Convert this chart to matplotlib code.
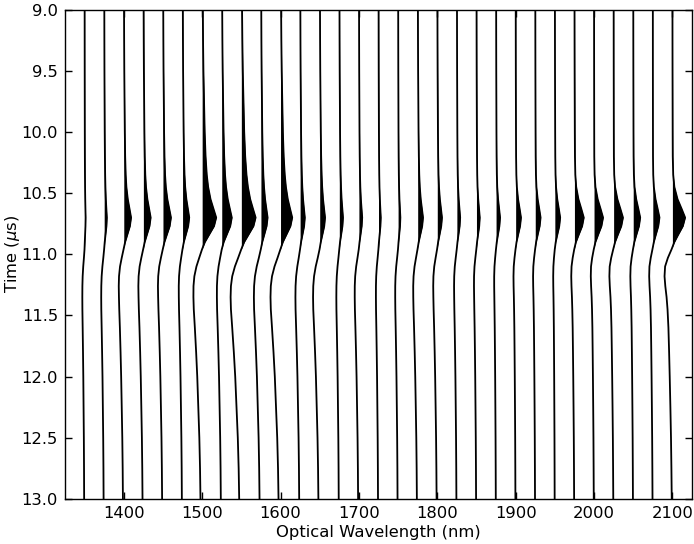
import numpy as np
import matplotlib
matplotlib.use("Agg")
import matplotlib.pyplot as plt

# trace positions (nm)
wavelengths = [1350, 1375, 1400, 1425, 1450, 1475, 1500, 1525, 1550, 1575,
               1600, 1625, 1650, 1675, 1700, 1725, 1750, 1775, 1800, 1825,
               1850, 1875, 1900, 1925, 1950, 1975, 2000, 2025, 2050, 2075, 2100]

# peak deflection of the positive and negative lobes per trace (nm)
pos_amp = [1.3, 3.4, 9.3, 9.3, 10.2, 8.5, 17.9, 12.8, 18.2, 8.5,
           14.9, 6.0, 6.8, 4.7, 4.2, 2.9, 2.9, 6.8, 6.0, 4.2,
           4.2, 5.1, 6.8, 6.8, 6.8, 11.9, 11.5, 11.9, 8.9, 8.5, 16.2]
neg_amp = [2.9, 3.8, 6.8, 6.8, 6.8, 5.1, 11.5, 6.4, 13.7, 9.0,
           12.8, 6.0, 8.5, 3.8, 5.5, 3.4, 3.8, 6.0, 5.5, 3.8,
           3.4, 2.6, 2.9, 2.9, 2.2, 4.2, 4.2, 5.5, 3.8, 4.7, 10.2]
# how much of the slow (broad) pulse shape each trace has
broad_frac = [1.0, 1.0, 0.7, 0.7, 0.7, 0.8, 0.9, 0.9, 1.0, 1.0,
              1.0, 1.0, 1.0, 1.0, 0.9, 0.9, 0.9, 0.8, 0.7, 0.7,
              0.6, 0.5, 0.3, 0.3, 0.3, 0.2, 0.1, 0.1, 0.2, 0.1, 0.1]

# pulse shapes (normalised)
time_us = [9.0, 9.25, 9.5, 9.75, 10.0, 10.2, 10.35, 10.45, 10.55, 10.63,
           10.7, 10.77, 10.84, 10.9, 10.96, 11.03, 11.1, 11.18, 11.26, 11.35,
           11.45, 11.6, 11.8, 12.0, 12.25, 12.5, 12.75, 13.0]
broad_pos = [0.05, 0.07, 0.1, 0.15, 0.2, 0.27, 0.36, 0.46, 0.62, 0.82,
             1.0, 0.85, 0.5, 0.2, 0.03, 0, 0, 0, 0, 0,
             0, 0, 0, 0, 0, 0, 0, 0]
narrow_pos = [0, 0, 0, 0, 0, 0, 0.03, 0.12, 0.38, 0.72,
              1.0, 0.82, 0.45, 0.15, 0.02, 0, 0, 0, 0, 0,
              0, 0, 0, 0, 0, 0, 0, 0]
broad_neg = [0, 0, 0, 0, 0, 0, 0, 0, 0, 0,
             0, 0, 0, 0, -0.05, -0.3, -0.6, -0.85, -0.97, -1.0,
             -0.97, -0.85, -0.7, -0.57, -0.45, -0.33, -0.25, -0.2]
narrow_neg = [0, 0, 0, 0, 0, 0, 0, 0, 0, 0,
              0, 0, 0, 0, -0.15, -0.6, -0.95, -1.0, -0.88, -0.7,
              -0.57, -0.46, -0.38, -0.31, -0.23, -0.16, -0.11, -0.07]

plt.rcParams['font.family'] = 'DejaVu Sans'
plt.rcParams['font.size'] = 11.8

fig = plt.figure(figsize=(6.94, 5.44), dpi=100)
ax = fig.add_axes([65 / 694, 45 / 544, 627 / 694, 489.5 / 544])

t = np.array(time_us)
for i, wl in enumerate(wavelengths):
    w = broad_frac[i]
    pshape = w * np.array(broad_pos) + (1 - w) * np.array(narrow_pos)
    nshape = w * np.array(broad_neg) + (1 - w) * np.array(narrow_neg)
    x = wl + pos_amp[i] * pshape + neg_amp[i] * nshape
    ax.fill_betweenx(t, wl, x, where=x >= wl, interpolate=True,
                     color='black', linewidth=0)
    ax.plot(x, t, color='black', linewidth=1.3)

ax.set_xlim(1325, 2125)
ax.set_ylim(13.0, 9.0)
ax.set_xticks([1400, 1500, 1600, 1700, 1800, 1900, 2000, 2100])
ax.set_yticks([9.0, 9.5, 10.0, 10.5, 11.0, 11.5, 12.0, 12.5, 13.0])
ax.yaxis.set_major_formatter(plt.FormatStrFormatter('%.1f'))
ax.tick_params(direction='in', top=True, right=True, length=5, width=1, pad=5)
for s in ax.spines.values():
    s.set_linewidth(1.0)

ax.set_xlabel('Optical Wavelength (nm)', labelpad=3)
ax.set_ylabel(r'Time ($\mu$s)', labelpad=0)

fig.savefig('out.png', dpi=100)
